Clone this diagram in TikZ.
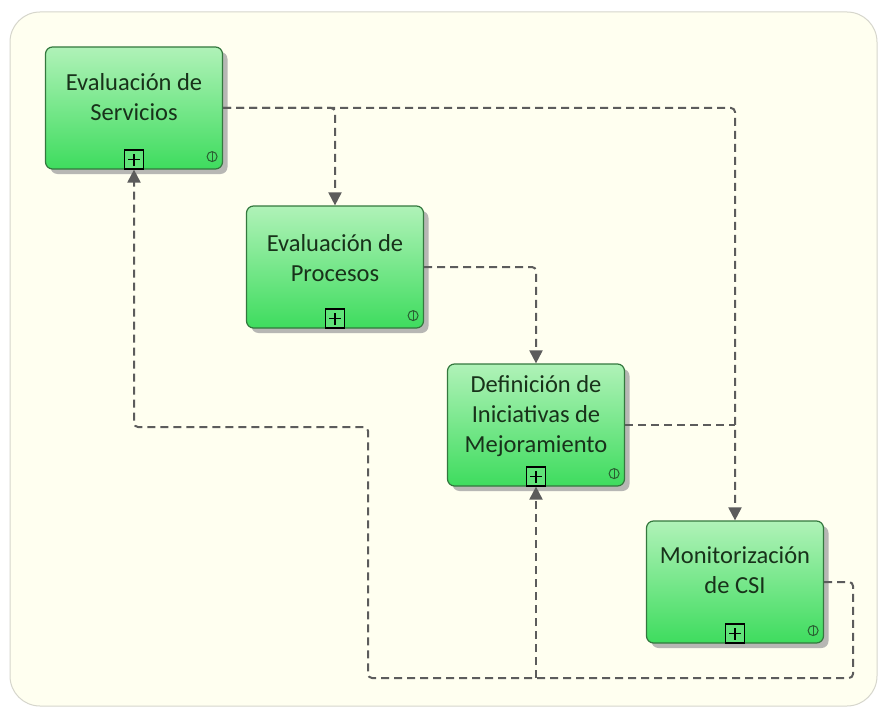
\documentclass[tikz,border=0pt]{standalone}
\usepackage{fontspec}
\setmainfont{Carlito}
\usetikzlibrary{arrows.meta,shadows}
\definecolor{panel}{RGB}{255,255,240}
\definecolor{panelrim}{RGB}{214,214,204}
\definecolor{boxtop}{RGB}{176,242,184}
\definecolor{boxbot}{RGB}{62,220,94}
\definecolor{boxrim}{RGB}{52,120,62}
\definecolor{inktext}{RGB}{24,50,26}
\definecolor{linkgray}{RGB}{92,92,92}
\tikzset{
  taskbox/.style={rectangle, rounded corners=7pt, draw=boxrim, line width=1.2pt,
    top color=boxtop, bottom color=boxbot, minimum width=177pt, minimum height=122pt,
    drop shadow={shadow xshift=5pt, shadow yshift=-5pt, fill=black!35, opacity=0.8}},
  tasktext/.style={align=center, text=inktext, font=\fontsize{24.5}{30}\selectfont},
  subproc/.style={rectangle, draw=black, line width=1.3pt, minimum size=19pt, inner sep=0pt,
    fill=boxbot!70!boxtop,
    path picture={\draw[black, line width=1.5pt]
      ([xshift=-6pt]path picture bounding box.center) -- ([xshift=6pt]path picture bounding box.center)
      ([yshift=-6pt]path picture bounding box.center) -- ([yshift=6pt]path picture bounding box.center);}},
  marker/.style={circle, draw=boxrim!80!black, line width=1pt, minimum size=10pt, inner sep=0pt,
    path picture={\draw[boxrim!80!black, line width=1pt]
      (path picture bounding box.north) -- (path picture bounding box.south);}},
  flow/.style={draw=linkgray, line width=2pt, dash pattern=on 8pt off 5pt, rounded corners=4pt},
  flowtip/.style={flow, -{Triangle[length=13pt,width=13pt]}}
}
\begin{document}
\begin{tikzpicture}[x=1pt,y=-1pt]
  \useasboundingbox (0,0) rectangle (879,709);
  % backdrop panel
  \fill[white] (0,0) rectangle (879,709);
  \draw[panelrim, fill=panel, line width=1pt, rounded corners=30pt] (10,12) rectangle (877,706);

  % the four activities
  \node[taskbox] (s) at (134,108) {};
  \node[taskbox] (p) at (335,267) {};
  \node[taskbox] (d) at (536,425) {};
  \node[taskbox] (m) at (735,582) {};

  \node[tasktext] (st) at ([yshift=11pt]s.center) {Evaluación de\\Servicios};
  \node[tasktext] (pt) at ([yshift=9pt]p.center) {Evaluación de\\Procesos};
  \node[tasktext] (dt) at ([yshift=9pt]d.center) {Definición de\\Iniciativas de\\Mejoramiento};
  \node[tasktext] (mt) at ([yshift=12pt]m.center) {Monitorización\\de CSI};

  % sub-process and marker icons
  \node[subproc] (sp) at ([yshift=10pt]s.south) {};
  \node[subproc] (pp) at ([yshift=10pt]p.south) {};
  \node[subproc] (dp) at ([yshift=10pt]d.south) {};
  \node[subproc] (mp) at ([yshift=10pt]m.south) {};
  \node[marker] (sm) at ([xshift=-11pt,yshift=13pt]s.south east) {};
  \node[marker] (pm) at ([xshift=-11pt,yshift=13pt]p.south east) {};
  \node[marker] (dm) at ([xshift=-11pt,yshift=13pt]d.south east) {};
  \node[marker] (mm) at ([xshift=-11pt,yshift=13pt]m.south east) {};

  % connector corner points
  \coordinate (r1) at (853,582);
  \coordinate (r2) at (853,678);
  \coordinate (b1) at (368,678);
  \coordinate (b2) at (368,427);
  \coordinate (bd) at (536,678);

  % forward flow
  \draw[flowtip] (s.east) -| (m.north);
  \draw[flowtip] (s.east) -| (p.north);
  \draw[flowtip] (p.east) -| (d.north);
  \draw[flow] (d.east) -- (d.east -| m.north);

  % feedback flow
  \draw[flowtip] (m.east) -- (r1) -- (r2) -- (b1) -- (b2) -- (b2 -| s.south) -- (s.south);
  \draw[flowtip] (bd) -- (d.south);
\end{tikzpicture}
\end{document}
